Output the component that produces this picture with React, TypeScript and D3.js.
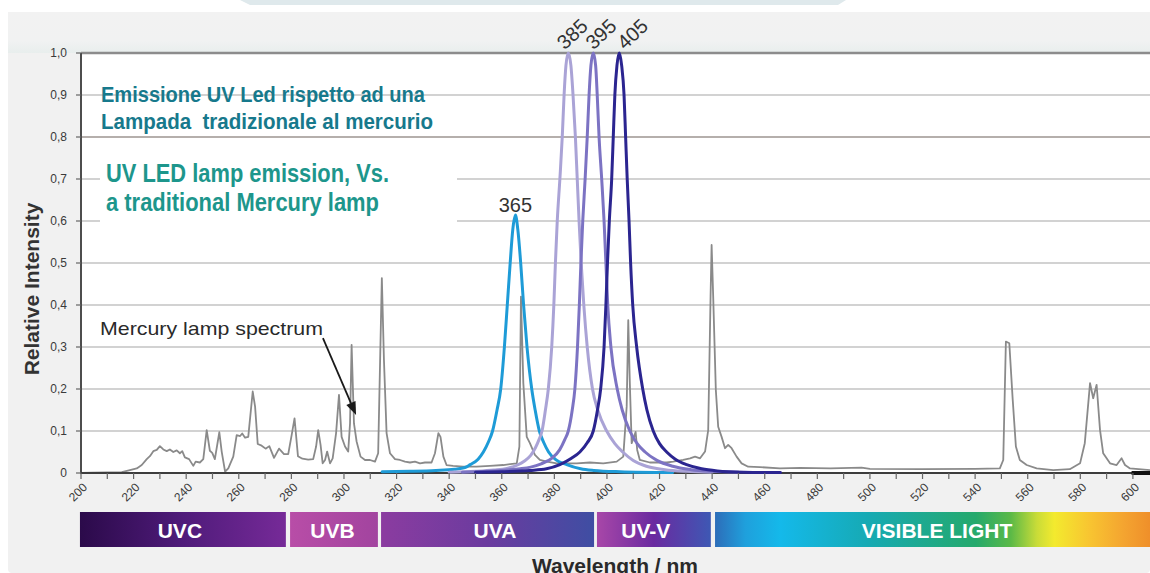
import React from "react";
import * as d3 from "d3";

// ---------- DATA ----------
const yTicks = [0, 0.1, 0.2, 0.3, 0.4, 0.5, 0.6, 0.7, 0.8, 0.9, 1.0];
const yTickLabels = ["0", "0,1", "0,2", "0,3", "0,4", "0,5", "0,6", "0,7", "0,8", "0,9", "1,0"];
const xMajorTicks = [200, 220, 240, 260, 280, 300, 320, 340, 360, 380, 400, 420, 440, 460, 480, 500, 520, 540, 560, 580, 600];
const xMinorTicks = [210, 230, 250, 270, 290, 310, 330, 350, 370, 390, 410, 430, 450, 470, 490, 510, 530, 550, 570, 590];

const bandNames = ["UVC", "UVB", "UVA", "UV-V", "VISIBLE LIGHT"];
const bandStart = [199.6, 279.5, 314.1, 396.2, 441.1];
const bandEnd = [277.9, 312.9, 395.1, 439.5, 606.5];
const bandLabelNm = [237.6, 295.6, 357.4, 414.8, 525.5];

const mercury: [number, number][] = [
  [200, 0], [204, 0.001], [215.5, 0.002], [218.6, 0.007], [221.2, 0.011], [223.1, 0.019], [225, 0.033],
  [226.2, 0.04], [227.5, 0.052], [228.8, 0.055], [230, 0.064], [231.3, 0.056], [232.6, 0.052], [233.8, 0.056],
  [235.1, 0.05], [236.4, 0.054], [237.6, 0.047], [238.5, 0.052], [239.5, 0.037], [241.1, 0.033], [242.7, 0.017],
  [243.6, 0.027], [245.2, 0.025], [246.5, 0.033], [247.8, 0.102], [249, 0.053], [249.9, 0.048], [250.9, 0.033],
  [252.6, 0.097], [253.5, 0.051], [254.8, 0.003], [256, 0.011], [257.9, 0.039], [259.2, 0.09], [260.5, 0.088],
  [261.3, 0.094], [262.4, 0.084], [263.6, 0.086], [265.3, 0.194], [266.2, 0.158], [267.2, 0.069], [268.7, 0.065],
  [270.2, 0.058], [271.6, 0.064], [273.4, 0.036], [275.3, 0.058], [277.2, 0.045], [278.8, 0.045], [280.1, 0.09],
  [281.2, 0.13], [282.5, 0.04], [284.2, 0.034], [286.4, 0.032], [288.3, 0.033], [289.4, 0.063], [290.2, 0.102],
  [291.1, 0.067], [291.9, 0.023], [292.8, 0.031], [293.6, 0.051], [294.7, 0.023], [295.7, 0.035], [297, 0.095],
  [298.1, 0.186], [299.1, 0.086], [300.4, 0.063], [301.6, 0.051], [302.3, 0.118], [302.9, 0.305], [303.8, 0.118],
  [304.8, 0.075], [306.3, 0.039], [308, 0.031], [309.9, 0.031], [311.8, 0.027], [313, 0.047], [314.4, 0.464],
  [315.2, 0.269], [316.2, 0.095], [317.5, 0.047], [319.4, 0.033], [321.3, 0.031], [323.2, 0.027], [325.1, 0.025],
  [327, 0.027], [328.9, 0.023], [330.8, 0.025], [333.3, 0.025], [334.6, 0.047], [335.9, 0.095], [336.7, 0.086],
  [337.8, 0.039], [339, 0.019], [341.5, 0.017], [345.3, 0.015], [350.4, 0.015], [355.5, 0.017], [360.6, 0.019],
  [365.7, 0.023], [366.7, 0.063], [367.3, 0.42], [368.2, 0.214], [369.5, 0.086], [370.7, 0.071], [372.6, 0.043],
  [374.5, 0.031], [377.1, 0.027], [380.9, 0.023], [384.7, 0.023], [388.5, 0.023], [393.5, 0.025], [398.6, 0.023],
  [403.7, 0.027], [406.2, 0.039], [407.5, 0.158], [408.1, 0.364], [408.7, 0.214], [409.4, 0.071], [410.3, 0.086],
  [410.9, 0.098], [411.5, 0.055], [412.5, 0.031], [416.3, 0.025], [422.7, 0.025], [425.2, 0.027], [429, 0.031],
  [431.6, 0.035], [433.5, 0.039], [435.4, 0.035], [437.3, 0.051], [438.5, 0.102], [439.4, 0.42], [439.8, 0.543],
  [440.4, 0.42], [441.4, 0.198], [442.3, 0.11], [443.6, 0.086], [444.9, 0.059], [446.1, 0.067], [447.4, 0.059],
  [449.3, 0.039], [451.2, 0.023], [453.7, 0.015], [458.2, 0.014], [465.8, 0.011], [473.4, 0.012], [485, 0.011],
  [496.8, 0.013], [500, 0.01], [520, 0.009], [540, 0.01], [549.4, 0.011], [550.7, 0.031], [551.7, 0.313],
  [553, 0.309], [554.3, 0.174], [555.5, 0.063], [557, 0.031], [559.6, 0.019], [563.4, 0.011], [569.7, 0.007],
  [576, 0.009], [579.9, 0.023], [581.7, 0.071], [583.7, 0.214], [584.9, 0.178], [586.2, 0.21], [587.5, 0.102],
  [588.7, 0.047], [591.3, 0.023], [593.8, 0.019], [595.7, 0.035], [597, 0.019], [598.9, 0.011], [606.5, 0.007],
];

const led365: [number, number][] = [
  [314.5, 0.003], [325, 0.004], [335, 0.006], [342, 0.009], [346, 0.013], [348, 0.02], [351, 0.033], [353, 0.05],
  [355, 0.075], [356.5, 0.1], [358.2, 0.15], [359.6, 0.2], [361, 0.3], [362.1, 0.4], [363.2, 0.5],
  [364.2, 0.58], [365.2, 0.614], [366.1, 0.58], [367.2, 0.5], [368.3, 0.4], [369.6, 0.3], [371.4, 0.2],
  [372.7, 0.15], [374.3, 0.1], [376, 0.072], [377.8, 0.05], [380.5, 0.032], [384.7, 0.02], [390, 0.01], [395, 0.006],
  [405, 0.003], [425, 0.001],
];

const led385: [number, number][] = [
  [340, 0.002], [350, 0.004], [357, 0.007], [362, 0.011], [366, 0.019], [368.5, 0.028], [371, 0.042],
  [372.8, 0.06], [374.2, 0.08], [375.3, 0.1], [376.6, 0.15], [377.7, 0.2], [379, 0.3], [379.8, 0.4],
  [380.4, 0.5], [381.1, 0.6], [382.1, 0.7], [383, 0.8], [383.7, 0.9], [384.4, 0.97], [385.3, 1.0],
  [386.3, 0.97], [387.1, 0.9], [388, 0.8], [388.7, 0.7], [389.4, 0.6], [390.2, 0.5], [391.2, 0.4],
  [392.5, 0.3], [394.5, 0.2], [396.5, 0.15], [399.9, 0.1], [403, 0.07], [406, 0.05], [410, 0.03],
  [415, 0.016], [422, 0.008], [430, 0.004], [440, 0.002],
];

const led395: [number, number][] = [
  [345, 0.002], [355, 0.004], [362, 0.007], [367, 0.01], [371, 0.014], [375, 0.022], [379, 0.035],
  [382, 0.055], [384, 0.08], [385.3, 0.1], [386.8, 0.15], [387.8, 0.2], [388.8, 0.3], [389.5, 0.4],
  [390.1, 0.5], [390.8, 0.6], [391.7, 0.7], [392.5, 0.8], [393.2, 0.9], [393.9, 0.97], [394.8, 1.0],
  [395.7, 0.97], [396.3, 0.9], [397, 0.8], [398, 0.7], [398.9, 0.6], [399.6, 0.5], [400.3, 0.4],
  [401.5, 0.3], [403.9, 0.2], [405.8, 0.15], [408.7, 0.1], [411.5, 0.07], [414.5, 0.05], [419, 0.03],
  [425, 0.016], [432, 0.008], [440, 0.004], [450, 0.002],
];

const led405: [number, number][] = [
  [350, 0.002], [360, 0.003], [370.7, 0.006], [377, 0.01], [382.1, 0.02], [386.5, 0.035], [389.7, 0.05],
  [392.5, 0.072], [394.8, 0.1], [396.4, 0.15], [397.6, 0.2], [398.9, 0.3], [399.6, 0.4], [400.2, 0.5],
  [400.9, 0.6], [401.8, 0.7], [402.4, 0.8], [403, 0.9], [403.8, 0.97], [404.7, 1.0], [405.6, 0.97],
  [406.5, 0.9], [407.1, 0.8], [407.7, 0.7], [408.4, 0.6], [409.0, 0.5], [409.8, 0.4], [411.3, 0.3],
  [413.6, 0.2], [415.2, 0.15], [417.6, 0.1], [420, 0.07], [422.7, 0.05], [426, 0.033], [430.3, 0.02],
  [436, 0.01], [442, 0.005], [452, 0.002], [466, 0.001],
];

const blackTail: [number, number][] = [[599.5, 0], [606.5, 0]];

const ledNames = ["365", "385", "395", "405"];
const ledColors = ["#1e9bd7", "#aaa3d6", "#7c73c3", "#2b2590"];
const ledSeries = [led365, led385, led395, led405];

// ---------- COMPONENT ----------
export default function App() {
  const W = 1150;
  const H = 573;
  const x = d3.scaleLinear().domain([200, 606.5]).range([81, 1150]);
  const y = d3.scaleLinear().domain([0, 1]).range([473, 53]);

  const line = d3
    .line<[number, number]>()
    .x((d) => x(d[0]))
    .y((d) => y(d[1]));
  const smooth = d3
    .line<[number, number]>()
    .x((d) => x(d[0]))
    .y((d) => y(d[1]))
    .curve(d3.curveMonotoneX);

  const font = "'Liberation Sans', Arial, Helvetica, sans-serif";
  const narrow = "'Liberation Sans Narrow', 'Arial Narrow', 'Liberation Sans', Arial, sans-serif";

  const bandGrad = [
    [["0", "#2b0a4a"], ["0.5", "#4f1b7a"], ["1", "#762a98"]],
    [["0", "#b84da7"], ["1", "#a2449f"]],
    [["0", "#8b3ca0"], ["0.5", "#6b3b9f"], ["1", "#3f4ea3"]],
    [["0", "#a847a8"], ["0.5", "#6a2aa0"], ["1", "#3e58b4"]],
    [
      ["0", "#2d6db9"], ["0.07", "#1fa0dc"], ["0.15", "#14b9ea"], ["0.35", "#16aab4"],
      ["0.6", "#25a96c"], ["0.68", "#5bb947"], ["0.74", "#c9dc38"], ["0.78", "#f3ea2e"],
      ["0.86", "#f8c531"], ["0.94", "#f4a430"], ["1", "#ef8f2a"],
    ],
  ];

  const labelNm = [365.2, 386.8, 397.7, 409.7];

  // arrow in data coords
  const arrowFrom: [number, number] = [292, 0.321];
  const arrowTo: [number, number] = [304.6, 0.138];
  const ax1 = x(arrowFrom[0]), ay1 = y(arrowFrom[1]);
  const ax2 = x(arrowTo[0]), ay2 = y(arrowTo[1]);
  const ang = Math.atan2(ay2 - ay1, ax2 - ax1);
  const hl = 13, hw = 5;
  const bx = ax2 - hl * Math.cos(ang), by = ay2 - hl * Math.sin(ang);
  const head = `M${ax2},${ay2} L${bx + hw * Math.sin(ang)},${by - hw * Math.cos(ang)} L${bx - hw * Math.sin(ang)},${by + hw * Math.cos(ang)} Z`;

  return (
    <div style={{ position: "absolute", left: 0, top: 0 }}>
      <svg width={W} height={H} style={{ display: "block" }}>
        <defs>
          {bandGrad.map((stops, i) => (
            <linearGradient key={i} id={`band${i}`} x1="0" x2="1" y1="0" y2="0">
              {stops.map((s, j) => (
                <stop key={j} offset={s[0]} stopColor={s[1]} />
              ))}
            </linearGradient>
          ))}
          <linearGradient id="topfade" x1="0" x2="0" y1="0" y2="1">
            <stop offset="0" stopColor="#f2f2f2" />
            <stop offset="0.7" stopColor="#f1f2f2" />
            <stop offset="1" stopColor="#e8eeed" />
          </linearGradient>
        </defs>

        {/* page background */}
        <rect x={0} y={0} width={W} height={H} fill="#ffffff" />
        <path d="M240,0 L846,0 L838,5 L250,5 Z" fill="#dfe9ec" />
        <rect x={8} y={12} width={W - 8} height={H - 12} rx={4} fill="#f1f1f1" />
        <rect x={8} y={12} width={W - 8} height={41} fill="url(#topfade)" />

        {/* plot area */}
        <rect x={x(200)} y={y(1)} width={x(606.5) - x(200)} height={y(0) - y(1)} fill="#ffffff" />

        {/* gridlines */}
        {yTicks.slice(1).map((v) => (
          <line
            key={v}
            x1={x(200)}
            x2={x(606.5)}
            y1={y(v)}
            y2={y(v)}
            stroke={v === 1 ? "#8c8c8c" : v === 0.8 ? "#9d9590" : "#c3c3c3"}
            strokeWidth={v === 1 ? 2.6 : v === 0.8 ? 1.6 : 1.4}
          />
        ))}

        {/* white box behind english text */}
        <rect x={100} y={148} width={357} height={90} fill="#ffffff" />

        {/* title texts */}
        <g fontFamily={narrow} fontWeight="bold" fill="#17798c">
          <text x={101} y={102} fontSize={22} textLength={324} lengthAdjust="spacingAndGlyphs">
            Emissione UV Led rispetto ad una
          </text>
          <text x={101} y={129} fontSize={22} textLength={332} lengthAdjust="spacingAndGlyphs" style={{ whiteSpace: "pre" }}>
            Lampada  tradizionale al mercurio
          </text>
        </g>
        <g fontFamily={narrow} fontWeight="bold" fill="#1d968c">
          <text x={106} y={182} fontSize={26} textLength={283} lengthAdjust="spacingAndGlyphs">
            UV LED lamp emission, Vs.
          </text>
          <text x={106} y={211} fontSize={26} textLength={273} lengthAdjust="spacingAndGlyphs">
            a traditional Mercury lamp
          </text>
        </g>

        {/* axes */}
        <line x1={x(200)} x2={x(200)} y1={y(1)} y2={y(0) + 1} stroke="#4d4d4d" strokeWidth={2} />
        {yTicks.map((v, i) => (
          <g key={v}>
            <line x1={x(200) - 5} x2={x(200)} y1={y(v)} y2={y(v)} stroke="#666" strokeWidth={1.2} />
            <text
              x={67}
              y={y(v)}
              dy="0.35em"
              textAnchor="end"
              fontFamily={font}
              fontSize={12}
              fill="#3a3a3a"
            >
              {yTickLabels[i]}
            </text>
          </g>
        ))}

        {/* mercury spectrum */}
        <path d={line(mercury) || ""} fill="none" stroke="#8a8a8a" strokeWidth={1.8} strokeLinejoin="round" />

        {/* x axis line */}
        <line x1={x(200)} x2={x(606.5)} y1={y(0)} y2={y(0)} stroke="#3d3d3d" strokeWidth={2} />

        {/* LED curves */}
        {ledSeries.map((s, i) => (
          <path
            key={ledNames[i]}
            d={smooth(s) || ""}
            fill="none"
            stroke={ledColors[i]}
            strokeWidth={3}
            strokeLinejoin="round"
            strokeLinecap="round"
          />
        ))}
        <path d={line(blackTail) || ""} stroke="#111" strokeWidth={4} fill="none" />

        {/* x ticks */}
        {xMinorTicks.concat(xMajorTicks).map((v) => (
          <line key={v} x1={x(v)} x2={x(v)} y1={y(0)} y2={y(0) + 6} stroke="#666" strokeWidth={1.2} />
        ))}
        {xMajorTicks.map((v) => (
          <text
            key={v}
            transform={`translate(${x(v) + 7},${y(0) + 15}) rotate(-45)`}
            textAnchor="end"
            fontFamily={font}
            fontSize={12}
            fill="#3a3a3a"
          >
            {v}
          </text>
        ))}

        {/* LED peak labels */}
        <text x={x(labelNm[0])} y={212} textAnchor="middle" fontFamily={font} fontSize={20} fill="#333">
          {ledNames[0]}
        </text>
        {[1, 2, 3].map((i) => (
          <text
            key={i}
            transform={`translate(${x(labelNm[i])},${34}) rotate(-43)`}
            textAnchor="middle"
            dy="0.35em"
            fontFamily={font}
            fontSize={20}
            fill="#333"
          >
            {ledNames[i]}
          </text>
        ))}

        {/* mercury annotation */}
        <text x={100} y={335} fontFamily={font} fontSize={19} fill="#2a2a2a" textLength={223} lengthAdjust="spacingAndGlyphs">
          Mercury lamp spectrum
        </text>
        <line x1={ax1} y1={ay1} x2={bx} y2={by} stroke="#1a1a1a" strokeWidth={1.8} />
        <path d={head} fill="#1a1a1a" />

        {/* axis titles */}
        <text
          transform={`translate(39,${289}) rotate(-90)`}
          textAnchor="middle"
          fontFamily={font}
          fontWeight="bold"
          fontSize={21}
          fill="#333"
        >
          Relative Intensity
        </text>
        <text x={615} y={573} textAnchor="middle" fontFamily={font} fontWeight="bold" fontSize={21} fill="#2a2a2a">
          Wavelength / nm
        </text>

        {/* spectrum bands */}
        {bandNames.map((n, i) => (
          <g key={n}>
            <rect
              x={x(bandStart[i])}
              y={512}
              width={x(bandEnd[i]) - x(bandStart[i])}
              height={35}
              fill={`url(#band${i})`}
            />
            <text
              x={x(bandLabelNm[i])}
              y={537.5}
              textAnchor="middle"
              fontFamily={font}
              fontWeight="bold"
              fontSize={21}
              fill="#ffffff"
            >
              {n}
            </text>
          </g>
        ))}
      </svg>
    </div>
  );
}
